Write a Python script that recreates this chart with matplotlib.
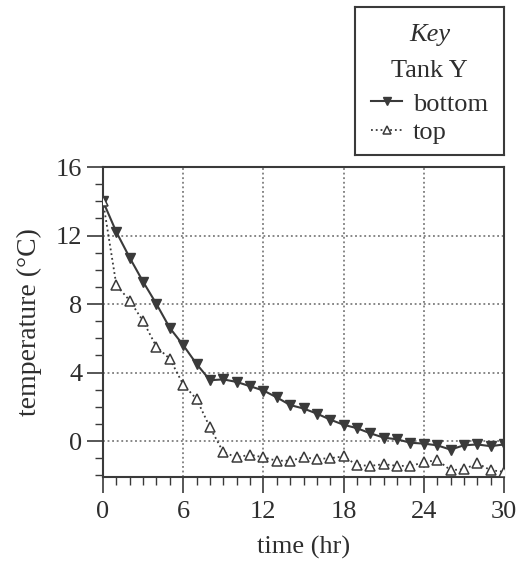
import numpy as np
import matplotlib
matplotlib.use('Agg')
import matplotlib.pyplot as plt
from matplotlib.ticker import MultipleLocator

plt.rcParams['font.family'] = ['Liberation Serif', 'DejaVu Serif']

# hourly readings, Tank Y
time_hr = list(range(0, 31))
bottom = [14.0, 12.2, 10.7, 9.3, 8.0, 6.6, 5.6, 4.5, 3.55, 3.6, 3.45,
          3.2, 2.95, 2.55, 2.1, 1.9, 1.6, 1.25, 0.95, 0.75, 0.45,
          0.2, 0.1, -0.1, -0.15, -0.25, -0.5, -0.25, -0.2, -0.3, -0.2]
top = [14.0, 9.1, 8.2, 7.0, 5.5, 4.8, 3.3, 2.45, 0.8, -0.65, -0.95,
       -0.8, -0.95, -1.15, -1.15, -0.95, -1.05, -1.0, -0.9, -1.4, -1.45,
       -1.35, -1.45, -1.45, -1.25, -1.1, -1.7, -1.65, -1.3, -1.7, -1.8]
xticks = [0, 6, 12, 18, 24, 30]
yticks = [0, 4, 8, 12, 16]

ink = '#3a3a3a'
txt = '#2e2e2e'
fs = 19
fig = plt.figure(figsize=(5.27, 5.61), dpi=100)
ax = fig.add_axes([103/527, 1-477/561, 401/527, 310/561])

ax.plot(time_hr, bottom, '-', color=ink, lw=1.5, marker='v', ms=7,
        mfc=ink, mec=ink, label='bottom', zorder=3)
ax.plot(time_hr, top, ':', color=ink, lw=1.3, marker='^', ms=7,
        mfc='white', mec=ink, mew=1.1, label='top', zorder=3)

ax.set_xlim(0, 30)
ax.set_ylim(-2.1, 16)
ax.set_xticks(xticks)
ax.set_yticks(yticks)
ax.xaxis.set_minor_locator(MultipleLocator(1))
ax.yaxis.set_minor_locator(MultipleLocator(1))
ax.tick_params(which='major', direction='out', length=11.5, width=1.2,
               color=ink, labelsize=fs, labelcolor=txt, pad=3.5)
ax.tick_params(axis='x', which='major', pad=6)
ax.tick_params(which='minor', direction='out', length=6, width=1.0, color=ink)
ax.grid(True, which='major', linestyle=(0, (1.2, 1.8)), color='#666666', lw=1.1)
for s in ax.spines.values():
    s.set_color(ink)
    s.set_linewidth(1.5)

ax.set_xlabel('time (hr)', fontsize=fs, color=txt, labelpad=9)
ax.set_ylabel('temperature (°C)', fontsize=fs + 1, color=txt, labelpad=10)

# key box
kax = fig.add_axes([355/527, 1-155/561, 149/527, 148/561])
kax.set_xticks([])
kax.set_yticks([])
for s in kax.spines.values():
    s.set_color(ink)
    s.set_linewidth(1.5)
kax.text(0.5, 0.81, 'Key', style='italic', fontsize=fs, ha='center',
         va='center', color=txt, transform=kax.transAxes)
kax.text(0.5, 0.565, 'Tank Y', fontsize=fs, ha='center', va='center',
         color=txt, transform=kax.transAxes)
h, l = ax.get_legend_handles_labels()
kax.legend(h, l, loc='lower center', bbox_to_anchor=(0.5, 0.0),
           frameon=False, fontsize=fs, handlelength=1.2, handletextpad=0.4,
           labelspacing=0.2, labelcolor=txt, markerscale=0.75,
           borderaxespad=0.0)

fig.savefig('out.png', dpi=100)
